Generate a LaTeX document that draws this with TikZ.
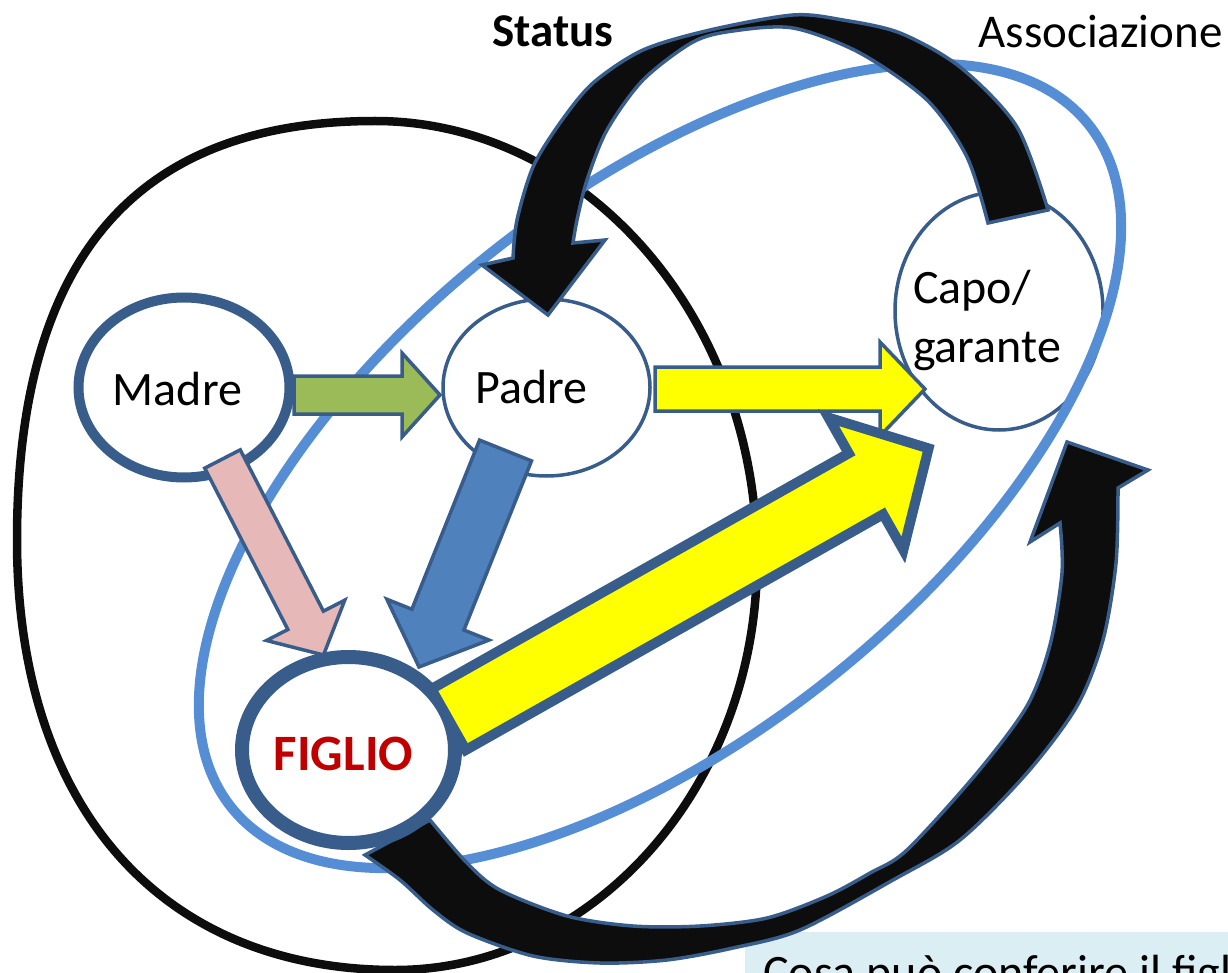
\documentclass[tikz,border=0pt]{standalone}
\usepackage{fontspec}
\setmainfont{Carlito}
\usetikzlibrary{calc,shapes.geometric}

\definecolor{ringblue}{HTML}{385D8A}
\definecolor{assocblue}{HTML}{558ED5}
\definecolor{greenfill}{HTML}{9BBB59}
\definecolor{pinkfill}{HTML}{E6B9B8}
\definecolor{bluefill}{HTML}{4F81BD}
\definecolor{boxfill}{HTML}{DBEEF4}
\definecolor{figred}{HTML}{C00000}
\definecolor{inkblack}{HTML}{0D0D0D}
\definecolor{pureyellow}{HTML}{FFFF00}

% straight block arrow: style, tail, tip, shaft half width, head half width, head length
\newcommand{\drawblockarrow}[6]{%
  \coordinate (ba-base) at ($(#3)!#6!(#2)$);
  \path[#1] ($(#2)!#4!90:(#3)$) -- ($(ba-base)!#4!90:(#3)$)
    -- ($(ba-base)!#5!90:(#3)$) -- (#3)
    -- ($(ba-base)!#5!-90:(#3)$) -- ($(ba-base)!#4!-90:(#3)$)
    -- ($(#2)!#4!-90:(#3)$) -- cycle;}

\begin{document}
\begin{tikzpicture}[x=1pt, y=-1pt, line join=miter,
  person/.style={ellipse, draw=ringblue, fill=white, inner sep=0pt},
  nametext/.style={inner sep=0pt, anchor=base, font=\fontsize{48pt}{58pt}\selectfont},
  headtext/.style={inner sep=0pt, anchor=base, font=\fontsize{47pt}{56pt}\selectfont},
  headbold/.style={headtext, font=\fontsize{47pt}{56pt}\selectfont\bfseries},
  thinarrow/.style={draw=ringblue, line width=3.5pt},
  curvedarrow/.style={fill=inkblack, draw=ringblue, line width=3.5pt}]
\useasboundingbox (0,0) rectangle (1228,973);
\clip (0,0) rectangle (1228,973);

% family circle (black), drawn as four quarter curves
\coordinate (fam-t) at (375,121);
\coordinate (fam-r) at (757,560);
\coordinate (fam-b) at (395,970);
\coordinate (fam-l) at (17,540);
\draw[inkblack, line width=8.5pt]
  (fam-t) .. controls (586,121) and (757,318) .. (fam-r)
          .. controls (757,786) and (594,970) .. (fam-b)
          .. controls (161,970) and (17,807) .. (fam-l)
          .. controls (17,259) and (135,121) .. (fam-t) -- cycle;

% people
\node[person, line width=10pt, minimum width=211pt, minimum height=180pt] (madre) at (184,387.5) {};
\node[person, line width=3.5pt, minimum width=207pt, minimum height=177pt] (padre) at (546.5,387.5) {};
\node[person, line width=3.5pt, minimum width=208pt, minimum height=238pt] (capo) at (999,311) {};

% association ring (blue)
\draw[assocblue, line width=10pt, rotate around={38.5:(660,466)}] (660,466) ellipse [x radius=548, y radius=272];

% question box
\node[fill=boxfill, anchor=north west, minimum width=500pt, minimum height=60pt, inner sep=0pt] (qbox) at (745,932) {};
\node[nametext, anchor=base west] (qtext) at (763,988) {Cosa può conferire il figl};

% straight arrows between people
\coordinate (m2p-s) at (294,395);  \coordinate (m2p-e) at (440,395);
\coordinate (p2c-s) at (655,389);  \coordinate (p2c-e) at (925,389);
\coordinate (m2f-s) at (222.5,459); \coordinate (m2f-e) at (323.5,655);
\coordinate (p2f-s) at (505.5,450.5); \coordinate (p2f-e) at (419,667);
\drawblockarrow{thinarrow, fill=greenfill}{m2p-s}{m2p-e}{19pt}{42pt}{38pt}
\drawblockarrow{thinarrow, fill=pureyellow}{p2c-s}{p2c-e}{22pt}{47pt}{45pt}
\drawblockarrow{thinarrow, fill=pinkfill}{m2f-s}{m2f-e}{20pt}{44pt}{39pt}
\drawblockarrow{thinarrow, fill=bluefill}{p2f-s}{p2f-e}{28pt}{55pt}{51pt}

% curved arrow from Capo over the top down to Padre
\draw[curvedarrow] plot[smooth] coordinates {
  (1048,210) (1017,127) (960,67) (900,33) (843,20) (793,15) (710,30)
  (643,50) (593,83) (560,123) (533,167) (517,220) (513,258)}
  -- (482,265) -- (548,315) -- (605,240)
  -- plot[smooth] coordinates {
  (573,243) (577,220) (587,180) (607,130) (643,80) (693,42) (733,31)
  (793,28) (860,53) (927,100) (967,157) (988,223)} -- cycle;

% curved arrow from Figlio under the bottom up to Capo
\draw[curvedarrow] plot[smooth] coordinates {
  (365,855) (400,880) (433,910) (467,933) (533,956) (600,963) (667,960)
  (733,948) (800,930) (893,880) (960,840) (1027,773) (1077,706)
  (1103,640) (1116,563) (1118,488)}
  -- (1148,470) -- (1067,442) -- (1030,542)
  -- plot[smooth] coordinates {
  (1060,523) (1062,573) (1050,645) (1027,706) (977,773) (907,850)
  (870,873) (827,896) (767,918) (700,926) (633,926) (567,916)
  (500,890) (467,863) (430,820)} -- cycle;

% the son
\node[person, line width=14pt, minimum width=213pt, minimum height=186pt] (figlio) at (348.5,750) {};

% big arrow from Figlio to Capo
\coordinate (f2c-s) at (448.6,719.5); \coordinate (f2c-e) at (928.6,448.4);
\drawblockarrow{draw=ringblue, line width=10pt, fill=pureyellow}{f2c-s}{f2c-e}{35pt}{76pt}{72pt}

% labels
\node[nametext] (madre-t) at (177.5,405) {Madre};
\node[nametext] (padre-t) at (531.5,403) {Padre};
\node[nametext, anchor=base west] (capo-t1) at (913,304) {Capo/};
\node[nametext, anchor=base west] (capo-t2) at (913,362) {garante};
\node[nametext, text=figred, font=\fontsize{51pt}{60pt}\selectfont\bfseries] (figlio-t) at (343.5,770) {FIGLIO};

\node[headbold] (status) at (553,47) {Status};
\node[headtext] (assoc) at (1100.5,48) {Associazione};
\end{tikzpicture}
\end{document}
